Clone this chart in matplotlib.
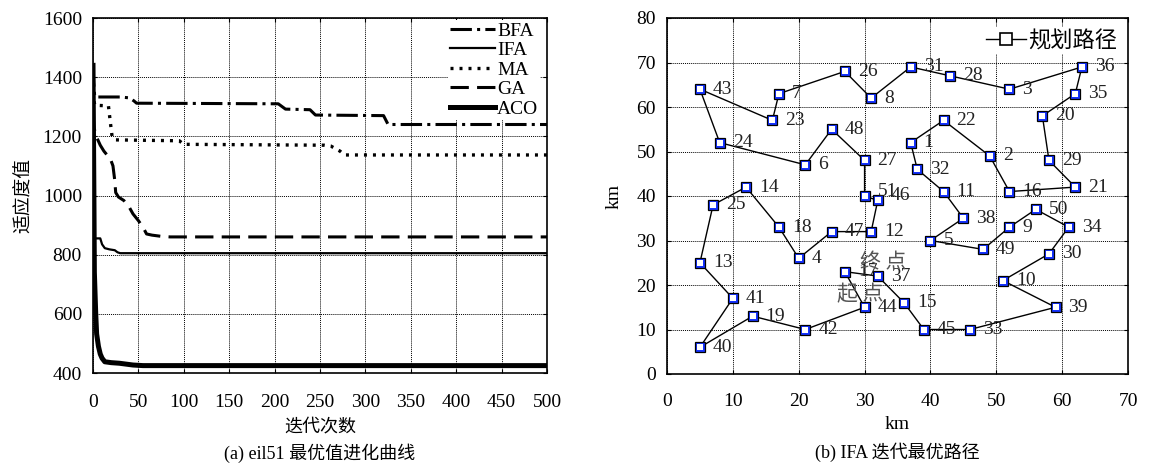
import matplotlib
matplotlib.use("Agg")
import matplotlib.pyplot as plt

SERIF = ['Liberation Serif', 'Noto Sans CJK SC', 'DejaVu Sans']
CJK = ['Noto Sans CJK SC', 'Liberation Serif', 'DejaVu Sans']
plt.rcParams['font.family'] = SERIF

# ---------------- data: (a) convergence curves ----------------
bfa_x = [0, 1, 2, 3, 30, 40, 45, 48, 204, 212, 239, 245, 320, 325, 500]
bfa_y = [1440, 1360, 1335, 1333, 1333, 1330, 1320, 1312, 1310, 1292, 1290, 1272, 1270, 1240, 1240]

ifa_x = [0, 1, 8, 10, 13, 18, 24, 27, 30, 500]
ifa_y = [855, 855, 855, 835, 822, 818, 815, 808, 805, 805]

ma_x = [0, 1, 2, 17, 19, 21, 24, 95, 100, 255, 262, 272, 277, 500]
ma_y = [1440, 1320, 1305, 1303, 1250, 1200, 1188, 1185, 1173, 1170, 1167, 1150, 1137, 1137]

ga_x = [0, 1, 4, 8, 12, 16, 19, 22, 24, 25, 28, 34, 40, 44, 50, 55, 59, 65, 75, 85, 500]
ga_y = [1280, 1230, 1197, 1170, 1150, 1135, 1125, 1100, 1050, 1010, 995, 983, 960, 938, 915, 893, 870, 866, 862, 860, 860]

aco_x = [0, 1, 1.5, 3, 4, 6, 8, 10, 13, 20, 29, 44, 55, 500]
aco_y = [1440, 1000, 740, 600, 532, 490, 464, 450, 438, 435, 433, 427, 425, 425]

# ---------------- data: (b) route ----------------
city_id = [44, 17, 37, 15, 45, 33, 39, 10, 30, 34, 50, 9, 49, 5, 38, 11, 32, 1, 22, 2, 16,
           21, 29, 20, 35, 36, 3, 28, 31, 8, 26, 7, 23, 43, 24, 6, 48, 27, 51, 46, 12, 47,
           4, 18, 14, 25, 13, 41, 40, 19, 42]
city_x = [30, 27, 32, 36, 39, 46, 59, 51, 58, 61, 56, 52, 48, 40, 45, 42, 38, 37, 42, 49, 52,
          62, 58, 57, 62, 63, 52, 43, 37, 31, 27, 17, 16, 5, 8, 21, 25, 30, 30, 32, 31, 25,
          20, 17, 12, 7, 5, 10, 5, 13, 21]
city_y = [15, 23, 22, 16, 10, 10, 15, 21, 27, 33, 37, 33, 28, 30, 35, 41, 46, 52, 57, 49, 41,
          42, 48, 58, 63, 69, 64, 67, 69, 62, 68, 63, 57, 64, 52, 47, 55, 48, 40, 39, 32, 32,
          26, 33, 42, 38, 25, 17, 6, 13, 10]

W, H = 1149, 468
fig = plt.figure(figsize=(W / 100, H / 100), dpi=100)

# ================= (a) =================
ax1 = fig.add_axes([93 / W, 1 - 373 / H, (547 - 93) / W, (373 - 18) / H])
ax1.plot(bfa_x, bfa_y, color='black', lw=2.2, dashes=(7, 1.7, 1, 1.7), label='BFA')
ax1.plot(ifa_x, ifa_y, color='black', lw=1.6, label='IFA')
ax1.plot(ma_x, ma_y, color='black', lw=2.4, dashes=(0.9, 1.8), label='MA')
ax1.plot(ga_x, ga_y, color='black', lw=2.2, dashes=(6, 2.7), label='GA')
ax1.plot(aco_x, aco_y, color='black', lw=3.6, label='ACO')
ax1.set_xlim(0, 500)
ax1.set_ylim(400, 1600)
ax1.set_xticks(range(0, 501, 50))
ax1.set_yticks(range(400, 1601, 200))
ax1.grid(True, color='black', linestyle=(0, (1, 1)), linewidth=0.7)
ax1.tick_params(direction='in', labelsize=14, length=3, top=True, right=True)
ax1.tick_params(axis='x', pad=15)
ax1.tick_params(axis='y', pad=8)
ax1.set_xlabel('迭代次数', fontsize=13, family=CJK, labelpad=5)
ax1.set_ylabel('适应度值', fontsize=13.5, family=CJK, labelpad=6)
for s in ax1.spines.values():
    s.set_linewidth(1.2)
leg1 = ax1.legend(loc='upper right', bbox_to_anchor=(1 - 7 / 454, 1 - 2 / 355), fontsize=14,
                  handlelength=2.3, handletextpad=0.1,
                  labelspacing=0.1, borderaxespad=0.0, borderpad=0.1,
                  frameon=True, framealpha=1, edgecolor='white', facecolor='white', fancybox=False)
leg1.get_frame().set_linewidth(0)
fig.text((93 + 547) / 2 / W, 1 - 453 / H, '(a) eil51 最优值进化曲线', ha='center', va='center',
         fontsize=13, family=SERIF)

# ================= (b) =================
ax2 = fig.add_axes([667 / W, 1 - 374 / H, (1128 - 667) / W, (374 - 18) / H])
ax2.plot(city_x + city_x[:1], city_y + city_y[:1], color='black', lw=1.0, zorder=2)
ax2.plot(city_x, city_y, linestyle='none', marker='s', markersize=6.5,
         markerfacecolor='#1533ff', markeredgecolor='black', markeredgewidth=0.9, zorder=3)
ax2.plot(city_x, city_y, linestyle='none', marker='s', markersize=3.9,
         markerfacecolor='white', markeredgecolor='white', markeredgewidth=0, zorder=4)
for cid, cx, cy in zip(city_id, city_x, city_y):
    dy = 5 if cid in (51, 46) else 0
    ax2.annotate(str(cid), (cx, cy), xytext=(13, dy), textcoords='offset pixels',
                 ha='left', va='center', fontsize=14, color='#222222', zorder=5)
ax2.text(29.3, 25.2, '终 点', fontsize=15, family=CJK, color='#555555', va='center', ha='left', zorder=6)
ax2.text(25.8, 17.8, '起 点', fontsize=15, family=CJK, color='#555555', va='center', ha='left', zorder=6)
ax2.set_xlim(0, 70)
ax2.set_ylim(0, 80)
ax2.set_xticks(range(0, 71, 10))
ax2.set_yticks(range(0, 81, 10))
ax2.grid(True, color='black', linestyle=(0, (1, 1)), linewidth=0.7)
ax2.tick_params(direction='in', labelsize=14, length=3, top=True, right=True)
ax2.tick_params(axis='x', pad=14)
ax2.tick_params(axis='y', pad=8)
ax2.set_xlabel('km', fontsize=14, labelpad=4)
ax2.set_ylabel('km', fontsize=14, labelpad=10)
for s in ax2.spines.values():
    s.set_linewidth(1.2)
route_handle, = ax2.plot([], [], color='black', lw=1.0, marker='s', markersize=8,
                         markerfacecolor='white', markeredgecolor='black', markeredgewidth=1.2)
leg2 = ax2.legend([route_handle], ['规划路径'], loc='upper right',
                  prop={'family': CJK, 'size': 16}, handlelength=1.8, handletextpad=0.1,
                  borderaxespad=0.4, borderpad=0.1, frameon=True, framealpha=1,
                  edgecolor='white', facecolor='white', fancybox=False)
leg2.get_frame().set_linewidth(0)
fig.text((667 + 1128) / 2 / W, 1 - 452 / H, '(b) IFA 迭代最优路径', ha='center', va='center',
         fontsize=13, family=SERIF)

fig.savefig('out.png', dpi=100)
